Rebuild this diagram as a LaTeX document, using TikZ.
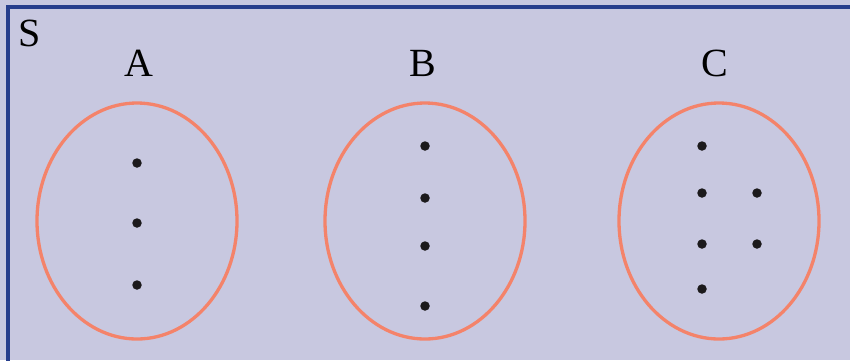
\documentclass[tikz,border=0pt]{standalone}
\usepackage{fontspec}
\setmainfont{Liberation Serif}
\usetikzlibrary{shapes.geometric}
\definecolor{lavender}{HTML}{C8C8E0}
\definecolor{frameblue}{HTML}{273E8C}
\definecolor{salmon}{HTML}{F4836A}
\definecolor{dotblack}{HTML}{1C1A1C}
\begin{document}
\begin{tikzpicture}[x=1pt,y=-1pt,
    setring/.style={ellipse,draw=salmon,line width=3.3pt,minimum width=200pt,minimum height=236pt,inner sep=0pt},
    elem/.style={circle,fill=dotblack,inner sep=0pt,minimum size=9.5pt},
    setname/.style={font=\fontsize{40}{40}\selectfont,inner sep=0pt}]
    \useasboundingbox[fill=lavender] (0,0) rectangle (850,360);
    \clip (0,0) rectangle (850,360);
    \draw[frameblue,line width=3.2pt] (8,380)--(8,7)--(870,7);
    \node[setname] (S) at (30,33) {S};

    \node[setname] (labA) at (139,63) {A};
    \node[setname] (labB) at (423,63) {B};
    \node[setname] (labC) at (715,63) {C};

    \node[setring] (A) at (137,221) {};
    \node[setring] (B) at (425,221) {};
    \node[setring] (C) at (719,221) {};

    \node[elem] (A1) at (137,163) {};
    \node[elem] (A2) at (137,223) {};
    \node[elem] (A3) at (137,285) {};

    \node[elem] (B1) at (425,146) {};
    \node[elem] (B2) at (425,198) {};
    \node[elem] (B3) at (425,246) {};
    \node[elem] (B4) at (425,306) {};

    \node[elem] (C1) at (702,146) {};
    \node[elem] (C2) at (702,193) {};
    \node[elem] (C3) at (702,244) {};
    \node[elem] (C4) at (702,289) {};
    \node[elem] (C5) at (757,193) {};
    \node[elem] (C6) at (757,244) {};
\end{tikzpicture}
\end{document}
